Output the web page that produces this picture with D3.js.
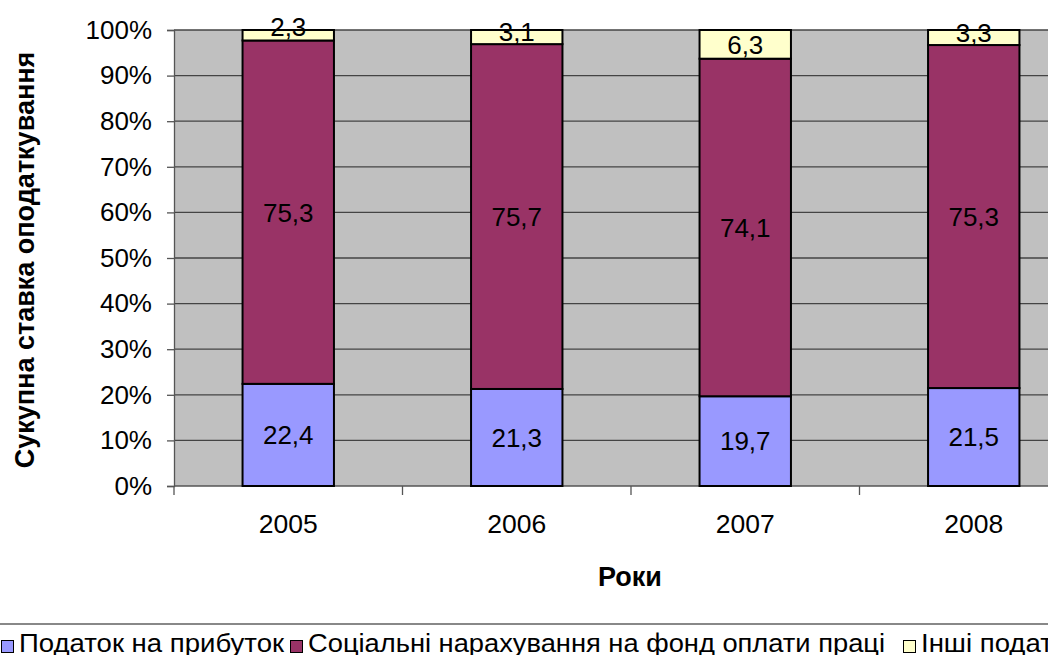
<!DOCTYPE html>
<html>
<head>
<meta charset="utf-8">
<script src="https://cdn.jsdelivr.net/npm/d3@7"></script>
<style>
  body { margin: 0; background: #fff; }
  svg { display: block; font-family: "Liberation Sans", Arial, sans-serif; }
</style>
</head>
<body>
<svg class="chart"></svg>
<script>
var years = ["2005", "2006", "2007", "2008"];
var seriesNames = ["Податок на прибуток", "Соціальні нарахування на фонд оплати праці", "Інші податки"];
var profitTax = [22.4, 21.3, 19.7, 21.5];
var socialCharges = [75.3, 75.7, 74.1, 75.3];
var otherTaxes = [2.3, 3.1, 6.3, 3.3];
var yTicks = [0, 0.1, 0.2, 0.3, 0.4, 0.5, 0.6, 0.7, 0.8, 0.9, 1];
var colors = ["#9999ff", "#993366", "#ffffcc"];

var W = 1048, H = 655;
var margin = { top: 30, left: 174 },
    plotW = 914,
    plotH = 456;

var svg = d3.select(".chart").attr("width", W).attr("height", H);

var x = d3.scaleBand()
  .domain(years)
  .range([0, plotW])
  .paddingInner(0.6)
  .paddingOuter(0.3);
var y = d3.scaleLinear()
  .domain([0, 1])
  .range([plotH, 0]);

var rows = years.map(function(yr, i) {
  return { year: yr, a: profitTax[i], b: socialCharges[i], c: otherTaxes[i] };
});
var stack = d3.stack().keys(["a", "b", "c"]).offset(d3.stackOffsetExpand);
var layers = stack(rows);

var g = svg.append("g")
  .attr("transform", "translate(" + margin.left + "," + margin.top + ")");

g.append("rect")
  .attr("width", plotW)
  .attr("height", plotH)
  .attr("fill", "#c0c0c0");

// gridlines
g.selectAll("line.grid")
  .data(yTicks.slice(1))
  .enter().append("line")
    .attr("class", "grid")
    .attr("x1", 0).attr("x2", plotW)
    .attr("y1", function(d) { return y(d); })
    .attr("y2", function(d) { return y(d); })
    .attr("stroke", "#444")
    .attr("stroke-width", 1.3);

// axes
var yAxis = d3.axisLeft(y)
  .tickValues(yTicks)
  .tickFormat(d3.format(".0%"))
  .tickSize(7)
  .tickPadding(15);
var yg = g.append("g").call(yAxis);
yg.select(".domain").attr("stroke", "#555").attr("stroke-width", 1.3);
yg.selectAll(".tick line").attr("stroke", "#555").attr("stroke-width", 1.3);
yg.selectAll("text").attr("font-size", 26).attr("fill", "#000")
  .attr("font-family", "'Liberation Sans', Arial, sans-serif");

var xg = g.append("g").attr("transform", "translate(0," + plotH + ")");
xg.append("line")
  .attr("x1", 0).attr("x2", plotW)
  .attr("stroke", "#555").attr("stroke-width", 1.3);
var step = x.step();
xg.selectAll("line.tick")
  .data(d3.range(years.length + 1))
  .enter().append("line")
    .attr("x1", function(d) { return d * step; })
    .attr("x2", function(d) { return d * step; })
    .attr("y1", 0).attr("y2", 9)
    .attr("stroke", "#555").attr("stroke-width", 1.3);
xg.selectAll("text")
  .data(years)
  .enter().append("text")
    .attr("x", function(d) { return x(d) + x.bandwidth() / 2; })
    .attr("y", 47)
    .attr("text-anchor", "middle")
    .attr("font-size", 26.5)
    .text(function(d) { return d; });

// bars
layers.forEach(function(layer, li) {
  g.selectAll("rect.s" + li)
    .data(layer)
    .enter().append("rect")
      .attr("class", "s" + li)
      .attr("x", function(d) { return x(d.data.year); })
      .attr("width", x.bandwidth())
      .attr("y", function(d) { return y(d[1]); })
      .attr("height", function(d) { return y(d[0]) - y(d[1]); })
      .attr("fill", colors[li])
      .attr("stroke", "#000")
      .attr("stroke-width", 2);
});

// data labels
layers.forEach(function(layer, li) {
  g.selectAll("text.l" + li)
    .data(layer)
    .enter().append("text")
      .attr("class", "l" + li)
      .attr("x", function(d) { return x(d.data.year) + x.bandwidth() / 2; })
      .attr("y", function(d) {
        var top = y(d[1]), h = y(d[0]) - top;
        var shift = Math.max(0, 19.5 - h);
        return top + h / 2 - shift;
      })
      .attr("dy", "0.36em")
      .attr("text-anchor", "middle")
      .attr("font-size", 26)
      .text(function(d) { return String(d.data[layer.key]).replace(".", ","); });
});

// axis titles
svg.append("text")
  .attr("x", 630)
  .attr("y", 586)
  .attr("text-anchor", "middle")
  .attr("font-size", 27)
  .attr("font-weight", "bold")
  .text("Роки");
svg.append("text")
  .attr("transform", "translate(34," + (margin.top + plotH / 2 + 2) + ") rotate(-90)")
  .attr("text-anchor", "middle")
  .attr("font-size", 27)
  .attr("font-weight", "bold")
  .text("Сукупна ставка оподаткування");

// legend
svg.append("line")
  .attr("x1", 0).attr("x2", W)
  .attr("y1", 624).attr("y2", 624)
  .attr("stroke", "#888").attr("stroke-width", 2);

var legendX = [1, 290, 903];
var legendW = [265, 577, null];
var factor = 1;
seriesNames.forEach(function(name, i) {
  svg.append("rect")
    .attr("x", legendX[i] + 0.5).attr("y", 640.5)
    .attr("width", 12).attr("height", 12)
    .attr("fill", colors[i])
    .attr("stroke", "#000").attr("stroke-width", 1);
  var t = svg.append("text")
    .attr("x", legendX[i] + 18)
    .attr("y", 652)
    .attr("font-size", 26)
    .text(name);
  var natural = t.node().getComputedTextLength();
  if (i === 0) factor = legendW[0] / natural;
  var len = legendW[i] || natural * factor;
  t.attr("textLength", len).attr("lengthAdjust", "spacingAndGlyphs");
});
</script>
</body>
</html>
